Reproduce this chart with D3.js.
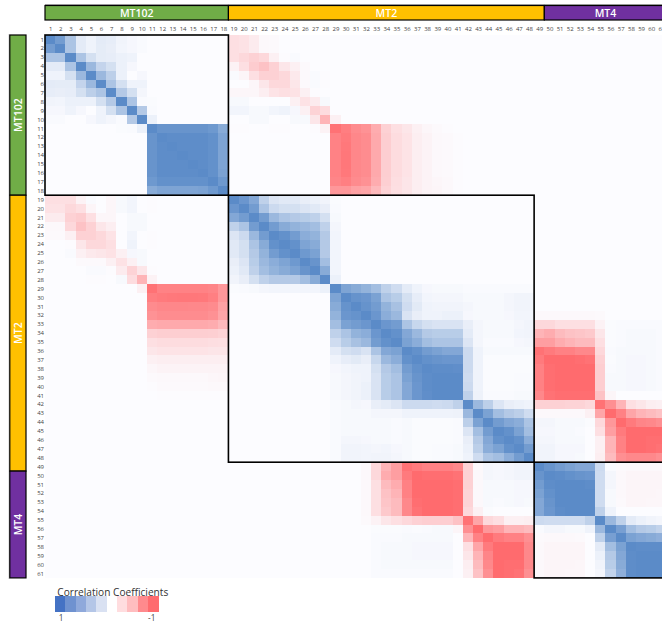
<!DOCTYPE html>
<html><head><meta charset="utf-8">
<script src="https://cdn.jsdelivr.net/npm/d3@7"></script>
<style>html,body{margin:0;padding:0;background:#fff;overflow:hidden}svg{display:block}text{font-family:"Open Sans","Noto Sans",sans-serif}.soft{opacity:.995}</style>
</head><body><svg id="c" width="662" height="625"></svg>
<script>
// Upper triangle of the symmetric matrix, in percent; each row starts at its diagonal cell.
const rowsMT102 = [
[100,85,50,15,8,15,13,7,4,2,0,0,0,0,0,0,0,0,-20,-18,-12,-3,-2],
[100,50,15,8,14,12,6,4,2,0,0,0,0,0,0,0,0,-20,-18,-12,-3,-2],
[100,50,25,14,13,10,8,0,0,0,0,0,0,0,0,0,-20,-25,-30,-25,-8,-1,2],
[100,60,35,25,10,4,0,0,0,0,0,0,0,0,0,-7,-20,-33,-40,-30,-15,-8,-2],
[100,60,40,10,0,4,0,0,0,0,0,0,0,0,2,-5,-20,-30,-30,-25,-13,-2,2,-1],
[100,50,25,8,8,0,0,0,0,0,0,0,0,0,0,-4,-15,-25,-25,-15,-2,2,-1],
[100,45,25,5,0,0,0,0,0,0,0,0,-4,-4,-4,-10,-17,-20,-18,-8,-1],
[100,50,2,1,0,0,0,0,0,0,0,3,3,0,0,0,0,-8,-18,-12,3],
[100,45,2,0,0,0,0,0,0,0,6,6,3,3,6,8,4,-8,-28,-22],
[100,10,0,0,0,0,0,0,0,0,0,3,3,0,0,3,3,-15,-50,-8],
[100,92,92,92,92,92,88,72,-1,-1,0,0,-1,-1,0,0,-1,-7,-95,-87,-78,-73,-55,-30,-20,-15,-8,-4,-2,-1],
[100,98,98,98,98,95,78,0,0,0,0,0,0,0,0,0,0,-84,-90,-81,-77,-57,-32,-22,-17,-10,-6,-3,-2,-1],
[100,98,98,98,95,78,0,0,0,0,0,0,0,0,0,0,-84,-91,-81,-77,-57,-32,-22,-17,-10,-6,-3,-2,-1],
[100,98,98,95,78,0,0,0,0,0,0,0,0,0,0,-84,-92,-81,-77,-57,-32,-22,-17,-10,-6,-3,-2,-1],
[100,98,95,78,0,0,0,0,0,0,0,0,0,0,-84,-92,-80,-77,-57,-32,-22,-17,-10,-6,-3,-2,-1],
[100,95,80,0,0,0,0,0,0,0,0,0,0,-84,-91,-80,-77,-57,-32,-22,-17,-10,-6,-3,-2,-1],
[100,88,0,0,0,0,0,0,0,0,0,0,-82,-86,-78,-74,-55,-31,-21,-16,-10,-6,-4,-3,-1],
[100,0,0,0,0,0,0,0,0,0,0,-70,-70,-63,-60,-46,-28,-20,-16,-10,-6,-5,-3,-1]
];
const rowsMT2 = [
[100,90,75,38,20,17,17,12,10,7,1],
[100,85,50,30,25,25,20,17,12,2],
[100,85,60,50,45,42,38,25,3],
[100,85,72,65,60,55,38,5],
[100,95,85,70,65,45,6],
[100,95,78,72,45,6],
[100,88,80,45,6],
[100,92,55,6],
[100,72,6],
[100,10],
[100,78,72,65,55,38,28,15,8,4,3,3,3,2,2,2,2,2,2,2],
[100,93,90,80,50,42,25,13,6,5,5,5,3,3,3,3,5,7,7],
[100,93,85,65,52,28,16,8,7,7,7,5,3,3,3,5,7,7],
[100,90,70,60,22,12,8,8,10,10,4,3,3,3,4,6,6,-3,-3,-3,-3,-3,-3,-2],
[100,90,85,50,33,25,22,22,22,12,5,3,3,3,5,7,-25,-25,-20,-20,-20,-20,-7,1,2,2,2,2,2],
[100,95,75,60,45,42,42,42,15,5,3,3,3,6,7,-50,-55,-45,-40,-38,-35,-15,1,2,3,3,3,2],
[100,80,70,55,50,50,50,20,5,2,2,2,4,5,-65,-65,-55,-50,-45,-45,-20,1,2,3,3,3,2],
[100,95,85,80,75,75,30,8,3,3,3,3,3,-95,-90,-85,-85,-80,-80,-25,2,3,3,3,3,2],
[100,95,92,90,90,30,8,1,1,1,1,1,-90,-100,-100,-100,-98,-95,-30,1,3,4,4,3,2],
[100,98,98,97,30,8,1,1,1,1,1,-85,-98,-100,-100,-100,-100,-32,2,3,4,4,3,2],
[100,100,100,28,8,1,1,1,2,2,-85,-98,-100,-100,-100,-100,-32,3,3,4,4,3,2],
[100,100,30,8,1,1,1,2,2,-85,-98,-100,-100,-100,-100,-32,3,3,4,4,3,2],
[100,38,9,2,2,2,3,3,-80,-95,-98,-98,-98,-98,-40,-5],
[100,60,40,20,12,10,8,-30,-30,-30,-28,-28,-25,-95,-75,-50,-20,-15,-10,-8],
[100,80,55,45,40,28,-3,-3,-3,-3,-3,-8,-60,-100,-85,-60,-50,-45,-40],
[100,85,75,70,50,5,5,3,3,3,1,-25,-70,-100,-90,-82,-80,-75],
[100,95,80,55,4,4,3,3,2,0,-20,-65,-90,-100,-100,-100,-100],
[100,95,70,5,5,3,3,3,0,-8,-50,-85,-100,-100,-98,-98],
[100,85,7,7,4,4,4,0,-8,-50,-85,-100,-100,-98,-95],
[100,7,7,4,4,3,0,-10,-45,-75,-80,-80,-80,-75]
];
const rowsMT4 = [
[100,92,85,80,75,75,30,2,-2,-3,-3,-3,-3],
[100,98,95,92,90,28,5,-3,-5,-5,-5,-5],
[100,100,100,98,28,5,-3,-5,-5,-5,-5],
[100,100,100,28,3,-3,-5,-5,-5,-4],
[100,100,28,3,-2,-5,-5,-4,-4],
[100,38,8,0,0,0,0,0],
[100,60,38,15,10,7,5],
[100,82,55,45,42,36],
[100,80,75,72,68],
[100,98,98,98],
[100,100,100],
[100,100],
[100]
];
const labels = d3.range(1, 62);
const groupNames = ["MT102", "MT2", "MT4"];
const groupColors = ["#70AD47", "#FFC000", "#7030A0"];
const bandFirst = [1, 19, 50];
const bandLast = [18, 49, 61];
const boxFirst = [1, 19, 49];
const boxLast = [18, 48, 61];
const legendColors = ["#4472C4", "#6F92D0", "#8FA9DB", "#B4C6E7", "#D9E1F2", "#FFFFFF", "#FFDDDF", "#FFBDBF", "#FF8A8D", "#FF6B6E"];
const legendTitle = "Correlation Coefficients";
const legendEnds = ["1", "-1"];

const svg = d3.select("#c");
const x = d3.scaleBand().domain(labels).range([45, 45 + 61 * 10.19]);
const y = d3.scaleBand().domain(labels).range([35, 35 + 61 * 8.9]);
const color = d3.scaleLinear().domain([-100, 0, 100]).range(["#FF6B6E", "#FCFCFF", "#5B8BC8"]);

const cells = [];
rowsMT102.concat(rowsMT2, rowsMT4).forEach((row, i) => {
  row.forEach((v, k) => {
    cells.push({r: i + 1, c: i + 1 + k, v});
    if (k > 0) cells.push({r: i + 1 + k, c: i + 1, v});
  });
});
svg.append("rect").attr("x", x(1)).attr("y", y(1))
  .attr("width", x(61) + x.bandwidth() - x(1)).attr("height", y(61) + y.bandwidth() - y(1))
  .attr("fill", color(0));
svg.append("g").attr("shape-rendering", "crispEdges").selectAll("rect").data(cells).join("rect")
  .attr("x", d => x(d.c)).attr("y", d => y(d.r))
  .attr("width", x.bandwidth()).attr("height", y.bandwidth())
  .attr("fill", d => color(d.v));

const axisTop = svg.append("g").attr("class", "soft").attr("transform", "translate(0.5,31)")
  .call(d3.axisTop(x).tickSize(0).tickPadding(0));
axisTop.select(".domain").remove();
const axisLeft = svg.append("g").attr("class", "soft").attr("transform", "translate(44,0.2)")
  .call(d3.axisLeft(y).tickSize(0).tickPadding(0));
axisLeft.select(".domain").remove();
svg.selectAll(".tick text").attr("font-size", 6).attr("fill", "#444")
  .style("font-family", '"Open Sans",sans-serif');

const boxes = boxFirst.map((f, i) => ({f, l: boxLast[i]}));
svg.append("g").selectAll("rect").data(boxes).join("rect")
  .attr("x", d => x(d.f)).attr("y", d => y(d.f))
  .attr("width", d => x(d.l) + x.bandwidth() - x(d.f))
  .attr("height", d => y(d.l) + y.bandwidth() - y(d.f))
  .attr("fill", "none").attr("stroke", "#000").attr("stroke-width", 1.6);

const bands = groupNames.map((name, i) => ({name, color: groupColors[i], f: bandFirst[i], l: bandLast[i]}));
// grey edge along the outside of both bands
svg.append("line").attr("x1", 45).attr("x2", 662).attr("y1", 4.5).attr("y2", 4.5).attr("stroke", "#aaa");
svg.append("line").attr("x1", 9).attr("x2", 9).attr("y1", 34).attr("y2", 579).attr("stroke", "#ccc");
const topBands = svg.append("g").selectAll("g").data(bands).join("g");
topBands.append("rect")
  .attr("x", d => x(d.f)).attr("y", 5.5)
  .attr("width", d => x(d.l) + x.bandwidth() - x(d.f)).attr("height", 14.5)
  .attr("fill", d => d.color).attr("stroke", "#000").attr("stroke-width", 1.2);
topBands.append("text")
  .attr("x", d => (x(d.f) + x(d.l) + x.bandwidth()) / 2).attr("y", 12.8)
  .attr("text-anchor", "middle").attr("dominant-baseline", "central")
  .attr("fill", "#fff").attr("font-size", 10.5).attr("font-weight", 600).text(d => d.name);
const sideBands = svg.append("g").selectAll("g").data(bands).join("g");
sideBands.append("rect")
  .attr("x", 9.8).attr("y", d => y(d.f))
  .attr("width", 16.2).attr("height", d => y(d.l) + y.bandwidth() - y(d.f))
  .attr("fill", d => d.color).attr("stroke", "#000").attr("stroke-width", 1.2);
sideBands.append("text")
  .attr("transform", d => `translate(18,${(y(d.f) + y(d.l) + y.bandwidth()) / 2}) rotate(-90)`)
  .attr("text-anchor", "middle").attr("dominant-baseline", "central")
  .attr("fill", "#fff").attr("font-size", 10.5).attr("font-weight", 600).text(d => d.name);

const lx = d3.scaleBand().domain(d3.range(legendColors.length)).range([55, 158.5]);
svg.append("g").attr("shape-rendering", "crispEdges").selectAll("rect").data(legendColors).join("rect")
  .attr("x", (d, i) => lx(i)).attr("y", 596).attr("width", lx.bandwidth()).attr("height", 16)
  .attr("fill", d => d);
const legendText = svg.append("g").attr("class", "soft");
legendText.append("text").attr("x", 57.3).attr("y", 595.7).attr("font-size", 10.15).attr("fill", "#333").text(legendTitle);
legendText.append("text").attr("x", 61).attr("y", 621).attr("text-anchor", "middle").attr("font-size", 8.2).attr("fill", "#444").text(legendEnds[0]);
legendText.append("text").attr("x", 151.7).attr("y", 621).attr("text-anchor", "middle").attr("font-size", 8.2).attr("fill", "#444").text(legendEnds[1]);
</script></body></html>
